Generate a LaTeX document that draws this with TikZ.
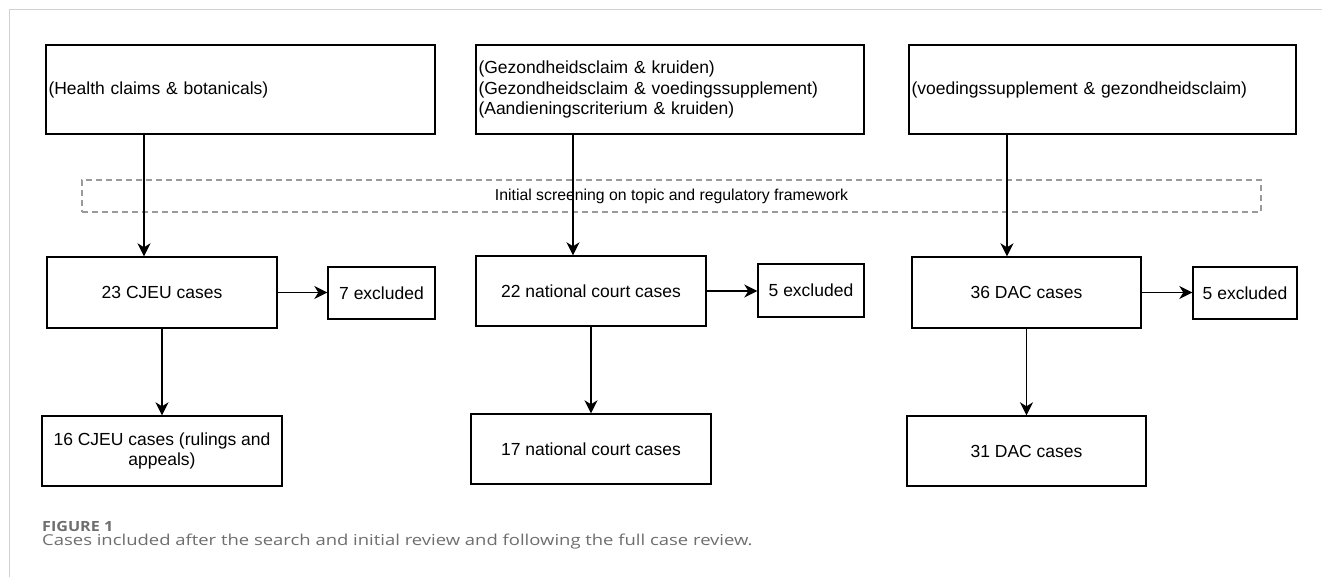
\documentclass[tikz,border=0pt]{standalone}
\usepackage{fontspec}
\setmainfont{Liberation Sans}
\newfontfamily\capfont[FakeStretch=1.23]{Open Sans}
\newfontfamily\figfont[FakeStretch=1.15]{Open Sans}
\usetikzlibrary{arrows.meta}
\definecolor{frameg}{HTML}{D0D0D0}
\definecolor{dashg}{HTML}{9A9A9A}
\definecolor{capg}{HTML}{6E6E6E}
\tikzset{
  x=1pt, y=-1pt,
  box/.style={draw=black, line width=1.4pt, inner sep=0pt, font=\fontsize{17.5}{20.5}\selectfont, align=center},
  topbox/.style={draw=black, line width=1.4pt, inner xsep=2.5pt, inner ysep=0pt, font=\fontsize{17.5}{20.5}\selectfont, align=left, minimum height=89pt},
  arr/.style={line width=1.4pt, -{Stealth[length=13pt, width=13pt, inset=4pt]}},
  screenbox/.style={draw=dashg, line width=1.2pt, dash pattern=on 6pt off 4pt, minimum width=1179pt, minimum height=32pt, inner sep=0pt, font=\fontsize{15.8}{18}\selectfont},
  frameline/.style={draw=frameg, line width=1.3pt}
}
\begin{document}
\begin{tikzpicture}
\useasboundingbox (0,0) rectangle (1322,577);
\fill[white] (0,0) rectangle (1322,577);
% page frame
\coordinate (fc) at (9.5,9.5);
\coordinate (fr) at (1322,9.5);
\coordinate (fb) at (9.5,577);
\draw[frameline] (fb) -- (fc) -- (fr);

% top boxes
\node[topbox, text width=384pt] (top1) at (240.5,89.5) {(Health claims \& botanicals)};
\node[topbox, text width=383pt] (top2) at (670,89.5) {(Gezondheidsclaim \& kruiden)\\(Gezondheidsclaim \& voedingssupplement)\\(Aandieningscriterium \& kruiden)};
\node[topbox, text width=382pt] (top3) at (1102.5,89.5) {(voedingssupplement \& gezondheidsclaim)};

% screening
\node[screenbox] (screen) at (671.5,196) {Initial screening on topic and regulatory framework};

% middle boxes
\node[box, minimum width=230pt, minimum height=71pt] (c1) at (162,292.5) {23 CJEU cases};
\node[box, minimum width=107pt, minimum height=52pt] (ex1) at (381.5,293) {7 excluded};
\node[box, minimum width=230pt, minimum height=70pt] (c2) at (591,291) {22 national court cases};
\node[box, minimum width=106pt, minimum height=53pt] (ex2) at (811,290.5) {5 excluded};
\node[box, minimum width=229pt, minimum height=71pt] (c3) at (1026.5,292.5) {36 DAC cases};
\node[box, minimum width=104pt, minimum height=52pt] (ex3) at (1245,293) {5 excluded};

% bottom boxes
\node[box, minimum width=240pt, minimum height=70pt] (f1) at (162,451) {16 CJEU cases (rulings and\\appeals)};
\node[box, minimum width=240pt, minimum height=70pt] (f2) at (591,449) {17 national court cases};
\node[box, minimum width=239pt, minimum height=70pt] (f3) at (1026.5,451) {31 DAC cases};

% arrows from top boxes
\coordinate (a1) at (144,0);
\coordinate (a2) at (573,0);
\coordinate (a3) at (1007,0);
\draw[arr] (top1.south -| a1) -- (c1.north -| a1);
\draw[arr] (top2.south -| a2) -- (c2.north -| a2);
\draw[arr] (top3.south -| a3) -- (c3.north -| a3);

% exclusion arrows
\draw[arr] (c1.east) -- (c1.east -| ex1.west);
\draw[arr] (c2.east) -- (c2.east -| ex2.west);
\draw[arr] (c3.east) -- (c3.east -| ex3.west);

% downward arrows
\draw[arr] (c1.south) -- (f1.north);
\draw[arr] (c2.south) -- (f2.north);
\draw[arr] (c3.south) -- (f3.north);

% caption
\node[anchor=base west, inner sep=0pt, text=capg, font=\figfont\bfseries\fontsize{14}{16}\selectfont] (figlab) at (42,531.7) {FIGURE 1};
\node[anchor=base west, inner sep=0pt, text=capg, font=\capfont\fontsize{15}{18}\selectfont] (captxt) at (42,545) {Cases included after the search and initial review and following the full case review.};
\end{tikzpicture}
\end{document}
